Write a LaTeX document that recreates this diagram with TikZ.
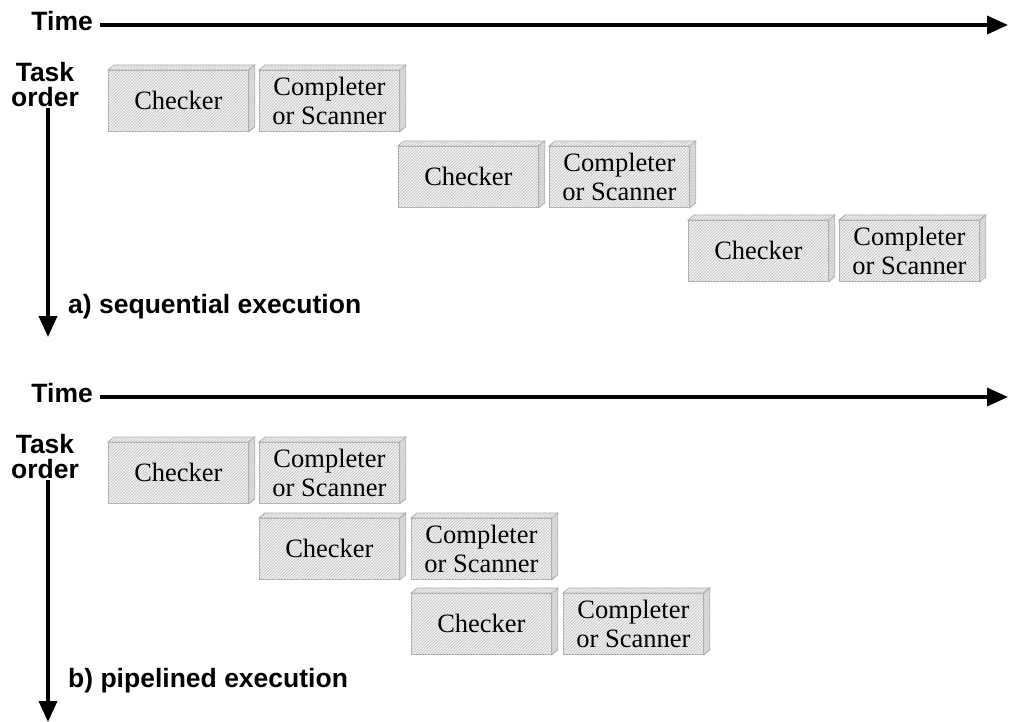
\documentclass[tikz,border=0pt]{standalone}
\usepackage{fontspec}
\setmainfont{Liberation Serif}
\setsansfont{Liberation Sans}
\usetikzlibrary{patterns,arrows.meta}
\tikzset{
  face/.style={draw=gray!65, line width=0.8pt, fill=gray!10,
    postaction={pattern=north east lines, pattern color=gray!50}},
  sideface/.style={face, fill=gray!22},
  blk/.style={face, minimum width=140pt, minimum height=61pt, inner sep=0pt,
    align=center, anchor=north west, font=\fontsize{26.5}{29}\selectfont},
  lbl/.style={inner sep=0pt, font=\sffamily\bfseries\fontsize{26.5}{25}\selectfont},
  arr/.style={line width=3.5pt, -{Triangle[length=21pt,width=18pt]}},
}
\newcommand\blkbox[4]{%
  \node[blk] (#1) at (#2,#3) {#4};
  \path[face] (#1.north west) -- ([shift={(6,-5)}]#1.north west)
     -- ([shift={(6,-5)}]#1.north east) -- (#1.north east) -- cycle;
  \path[sideface] (#1.north east) -- ([shift={(6,-5)}]#1.north east)
     -- ([shift={(6,-5)}]#1.south east) -- (#1.south east) -- cycle;
}
\begin{document}
\begin{tikzpicture}[x=1pt,y=-1pt]
\useasboundingbox (0,0) rectangle (1009,722);
% ---------- part a ----------
\node[lbl, anchor=base east] (timeA) at (93,31) {Time};
\coordinate (ta0) at (100,25);
\coordinate (ta1) at (1008,25);
\draw[arr] (ta0) -- (ta1);
\node[lbl, align=center] (taskA) at (45,85) {Task\\order};
\coordinate (va0) at (48,108);
\coordinate (va1) at (48,337);
\draw[arr] (va0) -- (va1);
\node[lbl, anchor=base west] (labA) at (68,313) {a) sequential execution};
\blkbox{ca1}{108}{70}{Checker}
\blkbox{sa1}{259}{70}{Completer\\or Scanner}
\blkbox{ca2}{398}{146}{Checker}
\blkbox{sa2}{549}{146}{Completer\\or Scanner}
\blkbox{ca3}{688}{220}{Checker}
\blkbox{sa3}{839}{220}{Completer\\or Scanner}
% ---------- part b ----------
\node[lbl, anchor=base east] (timeB) at (93,402) {Time};
\coordinate (tb0) at (100,397);
\coordinate (tb1) at (1008,397);
\draw[arr] (tb0) -- (tb1);
\node[lbl, align=center] (taskB) at (45,457) {Task\\order};
\coordinate (vb0) at (48,480);
\coordinate (vb1) at (48,722);
\draw[arr] (vb0) -- (vb1);
\node[lbl, anchor=base west] (labB) at (68,687) {b) pipelined execution};
\blkbox{cb1}{108}{442}{Checker}
\blkbox{sb1}{259}{442}{Completer\\or Scanner}
\blkbox{cb2}{259}{518}{Checker}
\blkbox{sb2}{411}{518}{Completer\\or Scanner}
\blkbox{cb3}{411}{593}{Checker}
\blkbox{sb3}{563}{593}{Completer\\or Scanner}
\end{tikzpicture}
\end{document}
